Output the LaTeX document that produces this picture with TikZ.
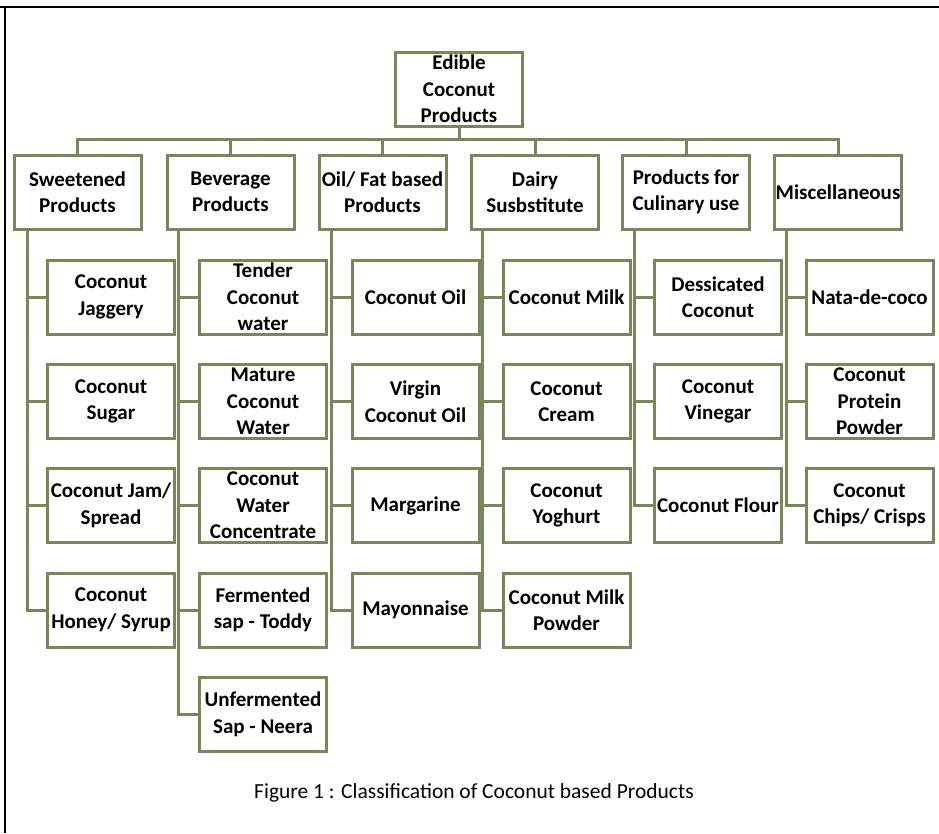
\documentclass[tikz,border=0pt]{standalone}
\usepackage{fontspec}
\setmainfont{Carlito}
\definecolor{boxgreen}{RGB}{120,134,92}
\begin{document}
\begin{tikzpicture}[x=1pt,y=-1pt,
  box/.style={draw=boxgreen,line width=3pt,minimum width=127pt,minimum height=74pt,
    inner sep=0pt,align=center,font=\bfseries\fontsize{21}{26.5}\selectfont},
  link/.style={draw=boxgreen,line width=3pt},
  frame/.style={draw=black,line width=2pt}]
\useasboundingbox (0,0) rectangle (939,833);
% frame
\coordinate (fTL) at (5,7);
\coordinate (fTR) at (939,7);
\coordinate (fBL) at (5,833);
\draw[frame] (0,7) -- (fTR);
\draw[frame] (fTL) -- (fBL);
% root
\node[box] (root) at (459,89) {Edible\\Coconut\\Products};
% groups
\node[box] (sweet) at ( 77.5,192) {Sweetened\\Products};
\node[box] (bev)   at (230.5,192) {Beverage\\Products};
\node[box] (oil)   at (382.5,192) {Oil/ Fat based\\Products};
\node[box] (dairy) at (535  ,192) {Dairy\\Susbstitute};
\node[box] (culin) at (686  ,192) {Products for\\Culinary use};
\node[box] (misc)  at (838  ,192) {Miscellaneous};
% sweetened products
\node[box] (jaggery) at (111,297  ) {Coconut\\Jaggery};
\node[box] (sugar)   at (111,401.5) {Coconut\\Sugar};
\node[box] (jam)     at (111,505.5) {Coconut Jam/\\Spread};
\node[box] (honey)   at (111,610  ) {Coconut\\Honey/ Syrup};
% beverage products
\node[box] (tender)  at (263,297  ) {Tender\\Coconut\\water};
\node[box] (mature)  at (263,401.5) {Mature\\Coconut\\Water};
\node[box] (concent) at (263,505.5) {Coconut\\Water\\Concentrate};
\node[box] (toddy)   at (263,610  ) {Fermented\\sap - Toddy};
\node[box] (neera)   at (263,714.5) {Unfermented\\Sap - Neera};
% oil/fat based
\node[box] (cocoil)  at (415.5,297  ) {Coconut Oil};
\node[box] (virgin)  at (415.5,401.5) {Virgin\\Coconut Oil};
\node[box] (marg)    at (415.5,505.5) {Margarine};
\node[box] (mayo)    at (415.5,610  ) {Mayonnaise};
% dairy substitute
\node[box] (milk)    at (566.5,297  ) {Coconut Milk};
\node[box] (cream)   at (566.5,401.5) {Coconut\\Cream};
\node[box] (yoghurt) at (566.5,505.5) {Coconut\\Yoghurt};
\node[box] (powder)  at (566.5,610  ) {Coconut Milk\\Powder};
% culinary use
\node[box] (dessic)  at (718,297  ) {Dessicated\\Coconut};
\node[box] (vinegar) at (718,401.5) {Coconut\\Vinegar};
\node[box] (flour)   at (718,505.5) {Coconut Flour};
% miscellaneous
\node[box] (nata)    at (869.5,297  ) {Nata-de-coco};
\node[box] (protein) at (869.5,401.5) {Coconut\\Protein\\Powder};
\node[box] (chips)   at (869.5,505.5) {Coconut\\Chips/ Crisps};
% bus from root
\draw[link] (root.south) -- ++(0,12) -| (sweet.north);
\draw[link] (root.south) -- ++(0,12) -| (bev.north);
\draw[link] (root.south) -- ++(0,12) -| (oil.north);
\draw[link] (root.south) -- ++(0,12) -| (dairy.north);
\draw[link] (root.south) -- ++(0,12) -| (culin.north);
\draw[link] (root.south) -- ++(0,12) -| (misc.north);
% spines
\draw[link] ([xshift=15pt]sweet.south west) |- (jaggery.west);
\draw[link] ([xshift=15pt]sweet.south west) |- (sugar.west);
\draw[link] ([xshift=15pt]sweet.south west) |- (jam.west);
\draw[link] ([xshift=15pt]sweet.south west) |- (honey.west);
\draw[link] ([xshift=13pt]bev.south west) |- (tender.west);
\draw[link] ([xshift=13pt]bev.south west) |- (mature.west);
\draw[link] ([xshift=13pt]bev.south west) |- (concent.west);
\draw[link] ([xshift=13pt]bev.south west) |- (toddy.west);
\draw[link] ([xshift=13pt]bev.south west) |- (neera.west);
\draw[link] ([xshift=14pt]oil.south west) |- (cocoil.west);
\draw[link] ([xshift=14pt]oil.south west) |- (virgin.west);
\draw[link] ([xshift=14pt]oil.south west) |- (marg.west);
\draw[link] ([xshift=14pt]oil.south west) |- (mayo.west);
\draw[link] ([xshift=12pt]dairy.south west) |- (milk.west);
\draw[link] ([xshift=12pt]dairy.south west) |- (cream.west);
\draw[link] ([xshift=12pt]dairy.south west) |- (yoghurt.west);
\draw[link] ([xshift=12pt]dairy.south west) |- (powder.west);
\draw[link] ([xshift=13pt]culin.south west) |- (dessic.west);
\draw[link] ([xshift=13pt]culin.south west) |- (vinegar.west);
\draw[link] ([xshift=13pt]culin.south west) |- (flour.west);
\draw[link] ([xshift=13pt]misc.south west) |- (nata.west);
\draw[link] ([xshift=13pt]misc.south west) |- (protein.west);
\draw[link] ([xshift=13pt]misc.south west) |- (chips.west);
% caption
\node[font=\fontsize{21.5}{26}\selectfont] (caption) at (474,793)
  {Figure 1 : Classification of Coconut based Products};
\end{tikzpicture}
\end{document}
